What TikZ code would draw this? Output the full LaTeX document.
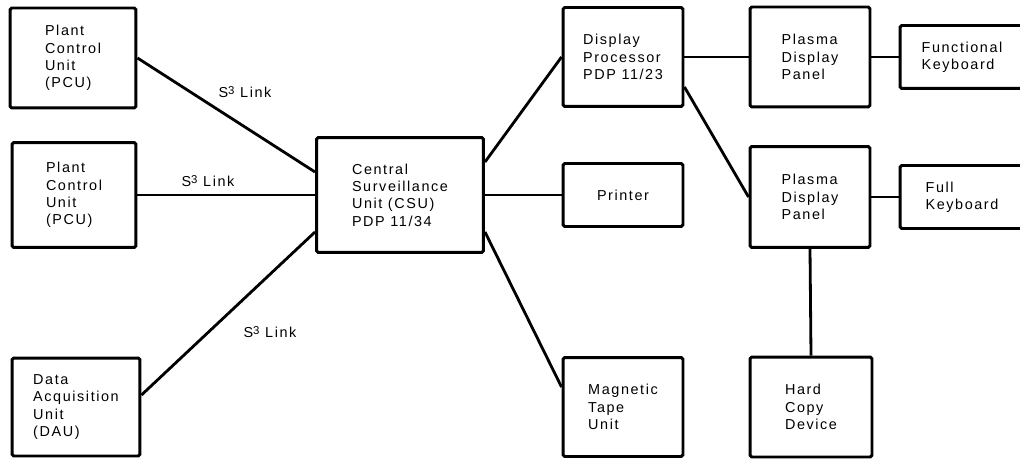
\documentclass[tikz,border=0pt]{standalone}
\usepackage{fontspec}
\setmainfont{Liberation Sans}[LetterSpace=11]
\usetikzlibrary{positioning}

\newcommand{\sthree}{S\raisebox{0.45ex}{\fontsize{6.5}{7}\selectfont 3}\ Link}

\begin{document}
\begin{tikzpicture}[
    x=0.02cm, y=-0.02cm,
    unit/.style={draw,line width=1.7pt,rounded corners=1pt,align=left,inner sep=0pt,
                 font=\fontsize{8.2}{9.9}\selectfont},
    tall/.style={unit,minimum width=2.4cm,minimum height=2.0cm},
    flat/.style={unit,minimum width=2.4cm,minimum height=1.26cm},
    wire/.style={line width=1.6pt},
    lbl/.style={font=\fontsize{8.2}{9}\selectfont},
]
\useasboundingbox (0,0) rectangle (1020,459);

% Left column: remote units
\node[tall,minimum width=2.52cm] (pcuA) at (73,58)  {Plant\\Control\\Unit\\(PCU)};
\node[tall,minimum width=2.48cm,minimum height=2.1cm] (pcuB) at (74,195) {Plant\\Control\\Unit\\(PCU)};
\node[tall,minimum width=2.56cm,minimum height=1.96cm] (dau) at (76,407) {Data\\Acquisition\\Unit\\(DAU)};

% Centre
\node[unit,minimum width=3.34cm,minimum height=2.3cm] (csu) at (400,195)
  {Central\\Surveillance\\Unit (CSU)\\PDP 11/34};

% Peripherals of the CSU
\node[tall,minimum height=1.98cm] (dproc)   at (623,57)  {Display\\Processor\\PDP 11/23};
\node[flat] (printer) at (623,195) {Printer};
\node[tall,minimum height=1.98cm] (tape)    at (623,407) {Magnetic\\Tape\\Unit};

% Display side
\node[tall] (plasmaA) at (810,57)  {Plasma\\Display\\Panel};
\node[tall,minimum height=2.02cm] (plasmaB) at (810,197) {Plasma\\Display\\Panel};
\node[tall,minimum width=2.44cm] (hcopy)   at (811,407) {Hard\\Copy\\Device};
\node[flat,minimum width=2.48cm] (fkey)    at (962,57)  {Functional\\Keyboard};
\node[flat,minimum width=2.48cm] (fullkey) at (962,197) {Full\\Keyboard};

% S^3 links into the CSU
\draw[wire] (pcuA.east) -- ([yshift=0.46cm]csu.west);
\draw[wire] (pcuB.east) -- (csu.west);
\draw[wire] ([yshift=0.24cm]dau.east) -- ([yshift=-0.74cm]csu.west);

% CSU outputs
\draw[wire] ([yshift=0.66cm]csu.east)  -- (dproc.west);
\draw[wire] (csu.east)                 -- (printer.west);
\draw[wire] ([yshift=-0.74cm]csu.east) -- ([yshift=0.4cm]tape.west);

% Display processor to panels and keyboards
\draw[wire] (dproc.east) -- (plasmaA.west);
\draw[wire] ([yshift=-0.6cm]dproc.east) -- (plasmaB.west);
\draw[wire] (plasmaA.east) -- (fkey.west);
\draw[wire] (plasmaB.east) -- (fullkey.west);
\draw[wire] (plasmaB.south) -- (hcopy.north);

% Link labels
\node[lbl] (linkA) at (245,92)  {\sthree};
\node[lbl] (linkB) at (208,181) {\sthree};
\node[lbl] (linkC) at (270,332) {\sthree};
\end{tikzpicture}
\end{document}
